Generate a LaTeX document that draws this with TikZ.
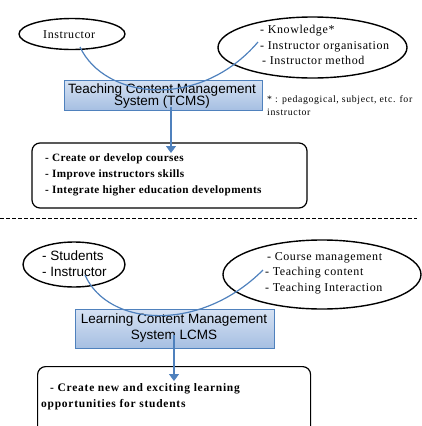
\documentclass[tikz,border=0pt]{standalone}
\usepackage{fontspec}
\setmainfont{Liberation Serif}
\setsansfont{Liberation Sans}
\usetikzlibrary{arrows.meta,shapes.geometric}
\definecolor{lineblue}{HTML}{4F81BD}
\definecolor{boxtop}{HTML}{D6E2F3}
\definecolor{boxbot}{HTML}{A6BFE2}
\newfontfamily\spacedserif[LetterSpace=5]{Liberation Serif}
\newfontfamily\spacedbold[LetterSpace=3.5,BoldFont={Liberation Serif Bold}]{Liberation Serif}
\newfontfamily\widebold[LetterSpace=6.5,BoldFont={Liberation Serif Bold}]{Liberation Serif}
\newfontfamily\notefont[LetterSpace=6.5]{Liberation Serif}
\tikzset{
  oval/.style={draw=black, line width=1.4pt, ellipse, inner sep=0pt},
  sysbox/.style={draw=lineblue, line width=1pt, top color=boxtop, bottom color=boxbot, inner sep=0pt},
  outbox/.style={draw=black, line width=1.2pt, rounded corners=8pt, inner sep=0pt},
  serifblock/.style={anchor=north west, inner sep=0pt, align=left, font=\spacedserif\fontsize{12}{15.5}\selectfont},
  sansblock/.style={inner sep=0pt, align=center, font=\sffamily\fontsize{13.5}{12.8}\selectfont},
  boldblock/.style={anchor=north west, inner sep=0pt, align=left, font=\spacedbold\bfseries\fontsize{11.2}{16}\selectfont},
  conn/.style={draw=lineblue, line width=1.2pt},
  arr/.style={draw=lineblue, line width=1.2pt, -{Triangle[width=10pt,length=7pt]}}
}
\begin{document}
\begin{tikzpicture}[x=1pt,y=-1pt]
\useasboundingbox (0,0) rectangle (422,426);
% ---------- top part ----------
\node[oval, minimum width=106pt, minimum height=31pt] (instO) at (72,34) {};
\node[anchor=base west, inner sep=0pt, font=\spacedserif\fontsize{12}{15.5}\selectfont] (instT) at (43,38.5) {Instructor};
\node[oval, minimum width=189pt, minimum height=61pt] (knowO) at (312.5,47.5) {};
\node[serifblock] (knowT) at (260,25) {- Knowledge*\\- Instructor organisation\\\hspace*{2pt}- Instructor method};
\node[sysbox, minimum width=198pt, minimum height=30pt] (tcms) at (163,95) {};
\node[sansblock] (tcmsT) at (162,96) {Teaching Content Management\\System (TCMS)};
\node[anchor=north west, inner sep=0pt, align=left, font=\notefont\fontsize{9.8}{13}\selectfont] (note) at (267,95) {* : pedagogical, subject, etc. for\\instructor};
\coordinate (c1s) at (80,47);
\coordinate (c1e) at (258,42);
\draw[conn] (c1s) .. controls (105,100) and (200,110) .. (c1e);
\node[outbox, minimum width=275pt, minimum height=65pt] (out1) at (169.5,175.5) {};
\node[boldblock] (out1T) at (45,153.5) {- Create or develop courses\\- Improve instructors skills\\- Integrate higher education developments};
\coordinate (a1s) at (171,107);
\coordinate (a1e) at (171,153);
\draw[arr] (a1s) -- (a1e);
% ---------- separator ----------
\coordinate (sepL) at (0,218);
\coordinate (sepR) at (417,218);
\draw[black, line width=0.6pt, dash pattern=on 3.5pt off 2.5pt] (sepL) -- (sepR);
% ---------- bottom part ----------
\node[oval, minimum width=102pt, minimum height=45pt] (studO) at (74,264.5) {};
\node[anchor=north west, inner sep=0pt, align=left, font=\sffamily\fontsize{13.5}{16}\selectfont] (studT) at (42,251) {- Students\\- Instructor};
\node[oval, minimum width=198pt, minimum height=69pt] (courseO) at (322,274.5) {};
\node[serifblock] (courseT) at (265,252) {\hspace*{2pt}- Course management\\- Teaching content\\- Teaching Interaction};
\node[sysbox, minimum width=199pt, minimum height=39pt] (lcms) at (174.5,328.5) {};
\node[inner sep=0pt, align=center, font=\sffamily\fontsize{13.5}{16}\selectfont] (lcmsT) at (174,328) {Learning Content Management\\System LCMS};
\coordinate (c2s) at (85,275);
\coordinate (c2e) at (263,270);
\draw[conn] (c2s) .. controls (108,327) and (200,333) .. (c2e);
\node[outbox, anchor=north west, minimum width=273pt, minimum height=70pt] (out2) at (37,366) {};
\node[anchor=north west, inner sep=0pt, align=left, font=\widebold\bfseries\fontsize{11.5}{16}\selectfont] (out2T) at (41,383) {\hspace*{9pt}- Create new and exciting learning\\opportunities for students};
\coordinate (a2s) at (174,335);
\coordinate (a2e) at (174,381);
\draw[arr] (a2s) -- (a2e);
\end{tikzpicture}
\end{document}
